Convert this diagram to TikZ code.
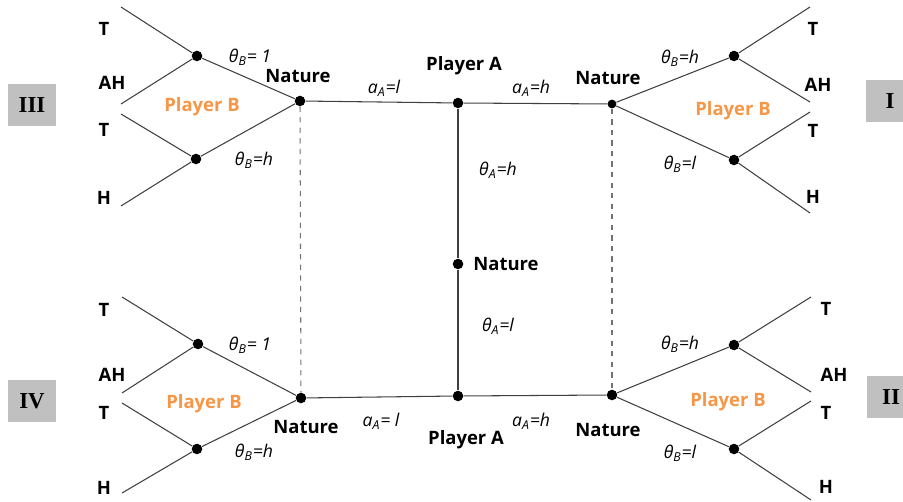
\documentclass[tikz,border=0pt]{standalone}
\usepackage{fontspec}
\setmainfont{Open Sans}
\newfontfamily\romanfont{Liberation Serif}
\usepackage{tikz}
\usetikzlibrary{positioning}
\definecolor{playerorange}{RGB}{247,150,70}
\definecolor{boxgray}{RGB}{192,192,192}

\begin{document}
\begin{tikzpicture}[x=0.02cm,y=-0.02cm,
  every node/.style={font=\fontsize{10}{12}\selectfont},
  dot/.style={circle,fill=black,minimum size=6pt,inner sep=0pt},
  edge/.style={draw=black!75,line width=0.6pt},
  infoset/.style={draw=black!55,line width=0.6pt,dashed},
  who/.style={font=\fontsize{10.5}{12}\selectfont\bfseries},
  playerB/.style={font=\fontsize{10.5}{12}\selectfont\bfseries,text=playerorange},
  act/.style={font=\fontsize{10}{12}\selectfont\itshape},
  outc/.style={font=\fontsize{10.5}{12}\selectfont\bfseries},
  game/.style={rectangle,fill=boxgray,minimum width=0.98cm,minimum height=0.84cm,
               inner sep=0pt,font=\romanfont\fontsize{13}{15}\selectfont\bfseries},
]
\useasboundingbox (0,0) rectangle (903,502);

% Player A and the central chance move
\node[dot] (pAtop) at (458,103) {};
\node[dot] (natA)  at (458,264) {};
\node[dot] (pAbot) at (458,396) {};
\node[who] at (464,66)  {Player A};
\node[who] at (466,440) {Player A};
\node[who] at (506,264) {Nature};
\node[act] at (498,170) {θ\textsubscript{A}=h};
\node[act] at (498,326) {θ\textsubscript{A}=l};

% Nature nodes after Player A's report
\node[dot] (natIII) at (300,101) {};
\node[dot,minimum size=5pt] (natI) at (612,104) {};
\node[dot] (natIV) at (301,398) {};
\node[dot] (natII) at (612,395) {};
\node[who] at (298,76)  {Nature};
\node[who] at (608,78)  {Nature};
\node[who] at (306,427) {Nature};
\node[who] at (608,430) {Nature};

\draw[edge] (natIII) -- (pAtop) -- (natI);
\draw[edge] (natIV) -- (pAbot) -- (natII);
\draw[edge] (pAtop) -- (natA) -- (pAbot);
\draw[infoset] (natIII) -- (natIV);
\draw[infoset] (natI) -- (natII);
\node[act] at (384,88)  {a\textsubscript{A}=l};
\node[act] at (531,88)  {a\textsubscript{A}=h};
\node[act] at (381,421) {a\textsubscript{A}= l};
\node[act] at (531,421) {a\textsubscript{A}=h};

% Game III (top left)
\node[dot] (bIIIh) at (197,56)  {};
\node[dot] (bIIIl) at (196,159) {};
\coordinate (lIII1) at (121,7);
\coordinate (lIII2) at (121,104);
\coordinate (lIII3) at (121,114);
\coordinate (lIII4) at (121,206);
\draw[edge] (lIII1) -- (bIIIh) -- (lIII2);
\draw[edge] (lIII3) -- (bIIIl) -- (lIII4);
\draw[edge] (bIIIh) -- (natIII) -- (bIIIl);
\node[outc] at (104,29)  {T};
\node[outc] at (112,83)  {AH};
\node[outc] at (104,130) {T};
\node[outc] at (104,198) {H};
\node[act] at (250,57)  {θ\textsubscript{B}= 1};
\node[act] at (254,160) {θ\textsubscript{B}=h};
\node[playerB] at (202,107) {Player B};
\node[game] at (32,105) {III};

% Game I (top right)
\node[dot] (bIh) at (734,56)  {};
\node[dot] (bIl) at (734,160) {};
\coordinate (lI1) at (810,7);
\coordinate (lI2) at (810,102);
\coordinate (lI3) at (810,112);
\coordinate (lI4) at (810,213);
\draw[edge] (lI1) -- (bIh) -- (lI2);
\draw[edge] (lI3) -- (bIl) -- (lI4);
\draw[edge] (bIh) -- (natI) -- (bIl);
\node[outc] at (813,29)  {T};
\node[outc] at (818,85)  {AH};
\node[outc] at (813,131) {T};
\node[outc] at (813,197) {H};
\node[act] at (680,58)  {θ\textsubscript{B}=h};
\node[act] at (680,164) {θ\textsubscript{B}=l};
\node[playerB] at (733,111) {Player B};
\node[game] at (890,101) {I};

% Game IV (bottom left)
\node[dot] (bIVh) at (198,344) {};
\node[dot] (bIVl) at (197,449) {};
\coordinate (lIV1) at (122,297);
\coordinate (lIV2) at (122,393);
\coordinate (lIV3) at (122,403);
\coordinate (lIV4) at (122,493);
\draw[edge] (lIV1) -- (bIVh) -- (lIV2);
\draw[edge] (lIV3) -- (bIVl) -- (lIV4);
\draw[edge] (bIVh) -- (natIV) -- (bIVl);
\node[outc] at (104,310) {T};
\node[outc] at (112,375) {AH};
\node[outc] at (104,413) {T};
\node[outc] at (104,488) {H};
\node[act] at (250,345) {θ\textsubscript{B}= 1};
\node[act] at (254,452) {θ\textsubscript{B}=h};
\node[playerB] at (204,404) {Player B};
\node[game] at (32,401) {IV};

% Game II (bottom right)
\node[dot] (bIIh) at (734,345) {};
\node[dot] (bIIl) at (734,449) {};
\coordinate (lII1) at (811,297);
\coordinate (lII2) at (811,392);
\coordinate (lII3) at (811,401);
\coordinate (lII4) at (811,500);
\draw[edge] (lII1) -- (bIIh) -- (lII2);
\draw[edge] (lII3) -- (bIIl) -- (lII4);
\draw[edge] (bIIh) -- (natII) -- (bIIl);
\node[outc] at (826,309) {T};
\node[outc] at (834,375) {AH};
\node[outc] at (826,413) {T};
\node[outc] at (826,487) {H};
\node[act] at (680,344) {θ\textsubscript{B}=h};
\node[act] at (680,453) {θ\textsubscript{B}=l};
\node[playerB] at (728,402) {Player B};
\node[game] at (891,397) {II};

\end{tikzpicture}
\end{document}
